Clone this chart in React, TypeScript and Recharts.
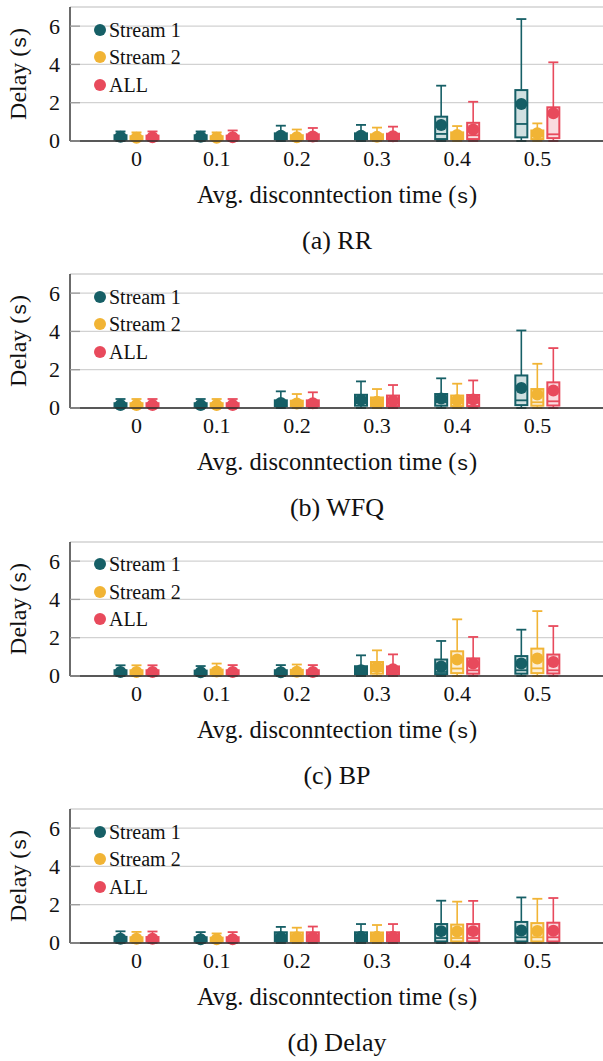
import React from "react";
import { ComposedChart, Bar, XAxis, YAxis, CartesianGrid } from "recharts";

const categories = ["0", "0.1", "0.2", "0.3", "0.4", "0.5"];
const yTicks = [0, 2, 4, 6];
const seriesNames = ["Stream 1", "Stream 2", "ALL"];
const seriesColors = ["#165f66", "#f1b435", "#e84a5c"];
const seriesLight = ["#d0e0e1", "#fcefd5", "#fadbdf"];
const captions = ["(a) RR", "(b) WFQ", "(c) BP", "(d) Delay"];

// each entry: [min, q1, median, q3, max, mean]
const rrStream1 = [
  [0, 0.08, 0.15, 0.3, 0.5, 0.22],
  [0, 0.08, 0.15, 0.3, 0.5, 0.22],
  [0, 0.1, 0.2, 0.4, 0.8, 0.28],
  [0, 0.1, 0.2, 0.4, 0.84, 0.27],
  [0, 0.1, 0.37, 1.27, 2.89, 0.84],
  [0, 0.19, 0.89, 2.66, 6.37, 1.93],
];
const rrStream2 = [
  [0, 0.07, 0.12, 0.25, 0.45, 0.17],
  [0, 0.07, 0.12, 0.25, 0.45, 0.17],
  [0, 0.08, 0.15, 0.3, 0.6, 0.2],
  [0, 0.08, 0.15, 0.35, 0.7, 0.22],
  [0, 0.1, 0.2, 0.45, 0.78, 0.31],
  [0, 0.1, 0.25, 0.55, 0.92, 0.4],
];
const rrAll = [
  [0, 0.08, 0.13, 0.28, 0.5, 0.2],
  [0, 0.08, 0.13, 0.28, 0.55, 0.2],
  [0, 0.1, 0.18, 0.35, 0.68, 0.24],
  [0, 0.1, 0.18, 0.38, 0.75, 0.25],
  [0, 0.1, 0.3, 0.95, 2.05, 0.6],
  [0, 0.15, 0.35, 1.76, 4.11, 1.45],
];

const wfqStream1 = [
  [0, 0.07, 0.12, 0.25, 0.47, 0.16],
  [0, 0.07, 0.12, 0.25, 0.47, 0.16],
  [0, 0.1, 0.18, 0.4, 0.87, 0.26],
  [0, 0.12, 0.25, 0.69, 1.39, 0.43],
  [0, 0.12, 0.3, 0.73, 1.55, 0.5],
  [0, 0.15, 0.4, 1.7, 4.05, 1.04],
];
const wfqStream2 = [
  [0, 0.07, 0.12, 0.25, 0.47, 0.16],
  [0, 0.07, 0.12, 0.25, 0.47, 0.16],
  [0, 0.1, 0.18, 0.38, 0.73, 0.24],
  [0, 0.1, 0.2, 0.55, 0.99, 0.33],
  [0, 0.1, 0.25, 0.65, 1.27, 0.4],
  [0, 0.12, 0.3, 0.99, 2.31, 0.7],
];
const wfqAll = [
  [0, 0.07, 0.12, 0.25, 0.47, 0.16],
  [0, 0.07, 0.12, 0.25, 0.47, 0.16],
  [0, 0.1, 0.18, 0.4, 0.82, 0.25],
  [0, 0.1, 0.22, 0.65, 1.2, 0.38],
  [0, 0.1, 0.27, 0.68, 1.44, 0.45],
  [0, 0.13, 0.35, 1.34, 3.13, 0.92],
];

const bpStream1 = [
  [0, 0.08, 0.13, 0.3, 0.56, 0.21],
  [0, 0.08, 0.13, 0.28, 0.52, 0.2],
  [0, 0.08, 0.13, 0.3, 0.57, 0.2],
  [0, 0.1, 0.18, 0.51, 1.08, 0.3],
  [0, 0.1, 0.21, 0.86, 1.83, 0.5],
  [0, 0.12, 0.3, 1.04, 2.42, 0.65],
];
const bpStream2 = [
  [0, 0.08, 0.13, 0.3, 0.56, 0.21],
  [0, 0.08, 0.15, 0.33, 0.65, 0.23],
  [0, 0.08, 0.15, 0.32, 0.6, 0.22],
  [0, 0.12, 0.25, 0.73, 1.34, 0.47],
  [0, 0.15, 0.39, 1.29, 2.96, 0.86],
  [0, 0.15, 0.4, 1.43, 3.39, 0.91],
];
const bpAll = [
  [0, 0.08, 0.13, 0.3, 0.56, 0.21],
  [0, 0.08, 0.14, 0.3, 0.57, 0.21],
  [0, 0.08, 0.14, 0.3, 0.57, 0.21],
  [0, 0.1, 0.2, 0.5, 1.13, 0.35],
  [0, 0.12, 0.3, 0.92, 2.04, 0.65],
  [0, 0.13, 0.3, 1.12, 2.61, 0.73],
];

const delayStream1 = [
  [0, 0.08, 0.15, 0.32, 0.61, 0.22],
  [0, 0.08, 0.14, 0.3, 0.57, 0.2],
  [0, 0.1, 0.2, 0.56, 0.84, 0.3],
  [0, 0.1, 0.2, 0.56, 0.99, 0.32],
  [0, 0.08, 0.26, 0.99, 2.21, 0.62],
  [0, 0.08, 0.3, 1.1, 2.38, 0.65],
];
const delayStream2 = [
  [0, 0.08, 0.15, 0.3, 0.58, 0.22],
  [0, 0.08, 0.13, 0.28, 0.5, 0.2],
  [0, 0.1, 0.2, 0.55, 0.8, 0.3],
  [0, 0.1, 0.2, 0.55, 0.94, 0.32],
  [0, 0.08, 0.26, 0.96, 2.16, 0.6],
  [0, 0.08, 0.3, 1.04, 2.31, 0.63],
];
const delayAll = [
  [0, 0.08, 0.15, 0.31, 0.6, 0.22],
  [0, 0.08, 0.14, 0.3, 0.57, 0.2],
  [0, 0.1, 0.2, 0.56, 0.86, 0.3],
  [0, 0.1, 0.2, 0.56, 0.99, 0.32],
  [0, 0.08, 0.26, 0.99, 2.2, 0.62],
  [0, 0.08, 0.3, 1.06, 2.35, 0.64],
];

const panels = [
  [rrStream1, rrStream2, rrAll],
  [wfqStream1, wfqStream2, wfqAll],
  [bpStream1, bpStream2, bpAll],
  [delayStream1, delayStream2, delayAll],
];

const keys = ["s1", "s2", "all"];
const serif = "Liberation Serif, Tinos, Times New Roman, Times, Nimbus Roman, DejaVu Serif, serif";
const mono = "Liberation Mono, DejaVu Sans Mono, monospace";
const frame = "#2b2b2b";
const PANEL_H = 267.4;

// box plot drawn on top of a [min, max] range bar
const boxShape = (key: string, color: string, light: string) => (props: any) => {
  const { x, y, width, height, payload } = props;
  const [mn, q1, md, q3, mx, mean] = payload[key];
  const k = height / (mx - mn);
  const py = (v: number) => y + height - (v - mn) * k;
  const cx = x + width / 2;
  const cap = 5;
  return (
    <g>
      <line x1={cx} x2={cx} y1={py(q3)} y2={py(mx)} stroke={color} strokeWidth={1.6} />
      <line x1={cx - cap} x2={cx + cap} y1={py(mx)} y2={py(mx)} stroke={color} strokeWidth={1.8} />
      <line x1={cx} x2={cx} y1={py(q1)} y2={py(mn)} stroke={color} strokeWidth={1.6} />
      <line x1={cx - cap} x2={cx + cap} y1={py(mn)} y2={py(mn)} stroke={color} strokeWidth={1.8} />
      <rect x={x + 1} y={py(q3)} width={width - 2} height={py(q1) - py(q3)} fill={light} stroke={color} strokeWidth={2} />
      <line x1={x + 1} x2={x + width - 1} y1={py(md)} y2={py(md)} stroke={color} strokeWidth={1.8} />
      <circle cx={cx} cy={py(mean)} r={6} fill={color} />
    </g>
  );
};

const LeftTick = (props: any) => {
  const { x, y, payload } = props;
  return (
    <g>
      <line x1={x} x2={x + 10} y1={y} y2={y} stroke="#9a9a9a" strokeWidth={1.3} />
      <text x={x - 10} y={y} dy="0.34em" textAnchor="end" style={{ fontFamily: serif }} fontSize={22} fill="#111">
        {payload.value}
      </text>
    </g>
  );
};

const BottomTick = (props: any) => {
  const { x, y, payload } = props;
  return (
    <text x={x} y={y} dy="0.71em" textAnchor="middle" style={{ fontFamily: serif }} fontSize={22} fill="#111">
      {payload.value}
    </text>
  );
};

const RightTick = (props: any) => {
  const { x, y } = props;
  return <line x1={x - 10} x2={x} y1={y} y2={y} stroke="#9a9a9a" strokeWidth={1.3} />;
};

const TopTick = (props: any) => {
  const { x, y } = props;
  return <line x1={x} x2={x} y1={y} y2={y + 11} stroke="#9a9a9a" strokeWidth={1.3} />;
};

function Panel({ series, caption, top }: { series: number[][][]; caption: string; top: number }) {
  const data = categories.map((name, i) => ({
    name,
    s1: series[0][i],
    s2: series[1][i],
    all: series[2][i],
  }));
  const text = { fontFamily: serif, lineHeight: 1, whiteSpace: "nowrap" as const, color: "#111" };
  return (
    <div style={{ position: "absolute", left: 0, top, width: 610, height: 267 }}>
      <ComposedChart
        width={610}
        height={267}
        data={data}
        margin={{ top: 7, right: 6, bottom: 96, left: 30 }}
        barSize={14}
        barGap={2}
      >
        <CartesianGrid horizontal vertical={false} stroke="#d2d2d2" strokeWidth={1.3} />
        <XAxis
          dataKey="name"
          height={30}
          padding={{ left: 26.5, right: 26.5 }}
          tickLine={false}
          tickSize={0}
          tickMargin={9}
          axisLine={{ stroke: frame, strokeWidth: 1.4 }}
          tick={<BottomTick />}
          interval={0}
        />
        <XAxis
          xAxisId="top"
          orientation="top"
          dataKey="name"
          height={0}
          padding={{ left: 26.5, right: 26.5 }}
          tickLine={false}
          tickSize={0}
          axisLine={{ stroke: frame, strokeWidth: 1.4 }}
          tick={<TopTick />}
          interval={0}
        />
        <YAxis
          width={40}
          domain={[0, 7]}
          ticks={yTicks}
          tickLine={false}
          tickSize={0}
          tickMargin={0}
          axisLine={{ stroke: frame, strokeWidth: 1.4 }}
          tick={<LeftTick />}
        />
        <YAxis
          yAxisId="r"
          orientation="right"
          width={0}
          domain={[0, 7]}
          ticks={yTicks}
          tickLine={false}
          tickSize={0}
          tickMargin={0}
          axisLine={{ stroke: frame, strokeWidth: 1.4 }}
          tick={<RightTick />}
        />
        {keys.map((key, s) => (
          <Bar
            key={key}
            name={seriesNames[s]}
            dataKey={(d: any) => [d[key][0], d[key][4]]}
            fill={seriesColors[s]}
            isAnimationActive={false}
            shape={boxShape(key, seriesColors[s], seriesLight[s])}
          />
        ))}
      </ComposedChart>

      {seriesNames.map((name, s) => (
        <div
          key={name}
          style={{
            ...text,
            position: "absolute",
            left: 94,
            top: 29.5 + s * 27.5,
            transform: "translateY(-50%)",
            display: "flex",
            alignItems: "center",
            fontSize: 20,
          }}
        >
          <span
            style={{
              display: "inline-block",
              width: 12,
              height: 12,
              borderRadius: "50%",
              background: seriesColors[s],
              marginRight: 3,
            }}
          />
          {name}
        </div>
      ))}

      <div
        style={{
          ...text,
          position: "absolute",
          left: 18,
          top: 74,
          transform: "translate(-50%, -50%) rotate(-90deg)",
          fontSize: 24,
        }}
      >
        Delay (<span style={{ fontFamily: mono, fontSize: 21 }}>s</span>)
      </div>

      <div
        style={{
          ...text,
          position: "absolute",
          left: 337,
          top: 195,
          transform: "translate(-50%, -50%)",
          fontSize: 24.5,
        }}
      >
        Avg. disconntection time (<span style={{ fontFamily: mono, fontSize: 21 }}>s</span>)
      </div>

      <div
        style={{
          ...text,
          position: "absolute",
          left: 337,
          top: 241,
          transform: "translate(-50%, -50%)",
          fontSize: 26,
        }}
      >
        {caption}
      </div>
    </div>
  );
}

export default function App() {
  return (
    <div
      style={{
        position: "absolute",
        left: 0,
        top: 0,
        width: 603,
        height: 1061,
        overflow: "hidden",
        background: "#fff",
      }}
    >
      {panels.map((series, i) => (
        <Panel key={captions[i]} series={series} caption={captions[i]} top={i * PANEL_H} />
      ))}
    </div>
  );
}
